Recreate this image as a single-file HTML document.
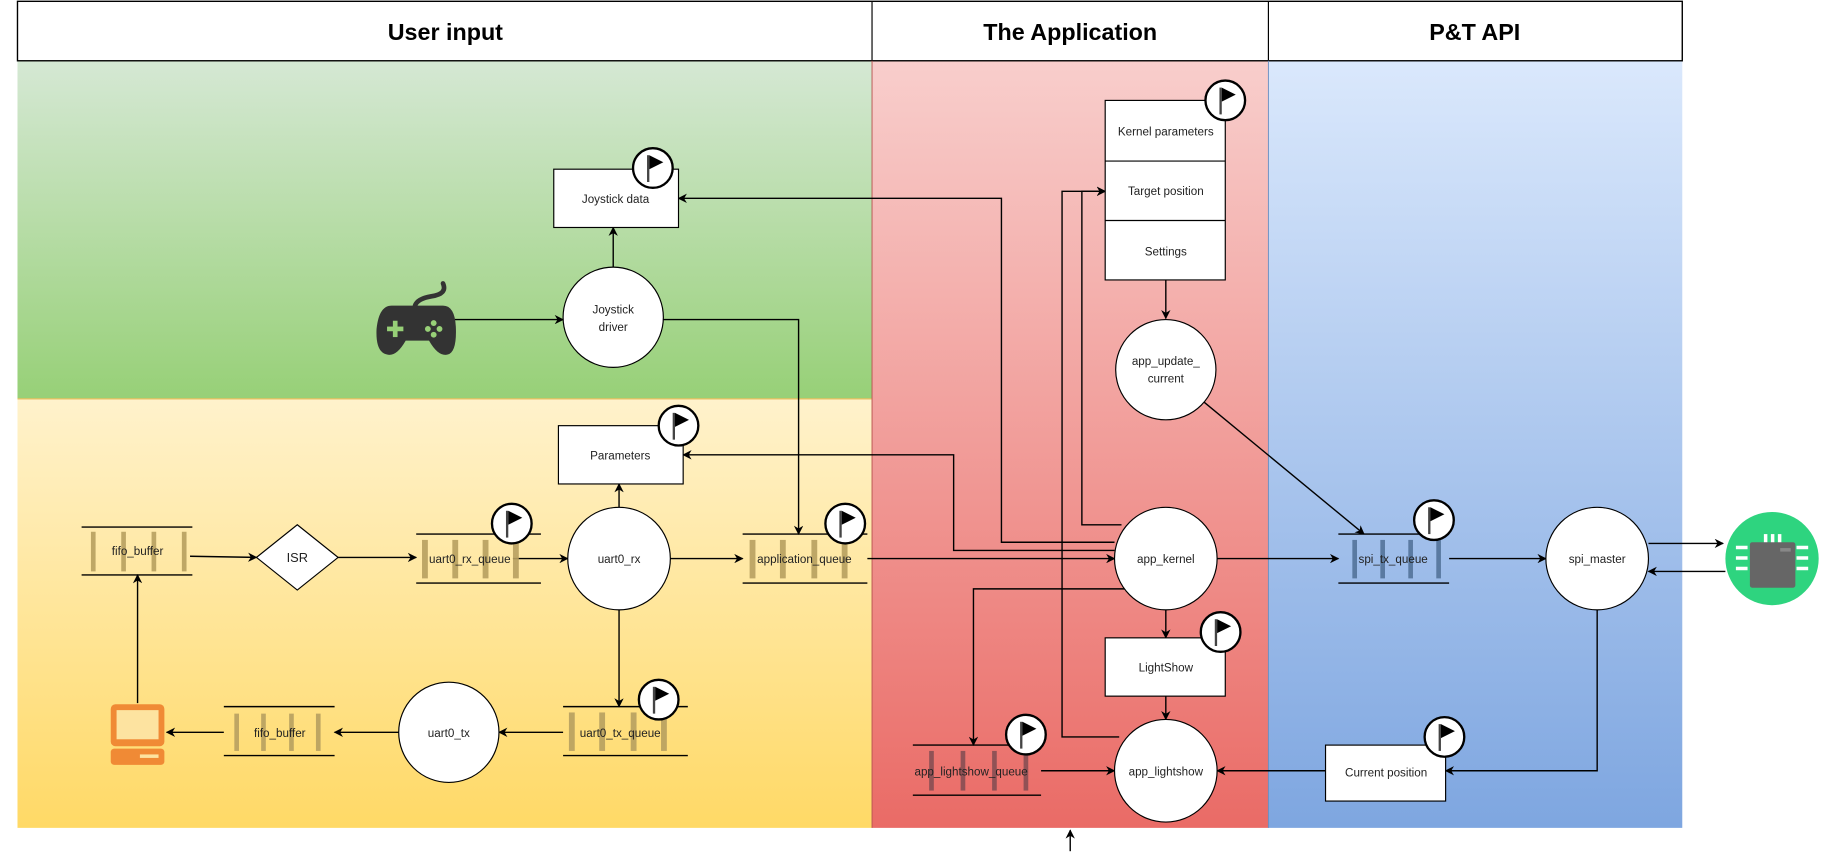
<!DOCTYPE html>
<html><head><meta charset="utf-8"><style>
html,body{margin:0;padding:0;background:#fff;}
svg{display:block;}
text{font-family:"Liberation Sans",Arial,sans-serif;}
</style></head><body>
<svg width="1828" height="856" viewBox="0 0 1568 734" xmlns="http://www.w3.org/2000/svg">
<defs>
<linearGradient id="gG" x1="0" y1="0" x2="0" y2="1"><stop offset="0" stop-color="#d5e8d4"/><stop offset="1" stop-color="#97d077"/></linearGradient>
<linearGradient id="gY" x1="0" y1="0" x2="0" y2="1"><stop offset="0" stop-color="#fff2cc"/><stop offset="1" stop-color="#ffd966"/></linearGradient>
<linearGradient id="gR" x1="0" y1="0" x2="0" y2="1"><stop offset="0" stop-color="#f8cecc"/><stop offset="1" stop-color="#ea6b66"/></linearGradient>
<linearGradient id="gB" x1="0" y1="0" x2="0" y2="1"><stop offset="0" stop-color="#dae8fc"/><stop offset="1" stop-color="#7ea6e0"/></linearGradient>
<marker id="a" viewBox="0 0 10 10" refX="9" refY="5" markerWidth="8" markerHeight="8" orient="auto" markerUnits="userSpaceOnUse"><path d="M0,0 L10,5 L0,10 L3,5 Z" fill="#000"/></marker>
<g id="flag"><circle r="17" fill="#fff" stroke="#000" stroke-width="2"/><line x1="-4" y1="-11" x2="-4" y2="12" stroke="#444" stroke-width="2"/><path d="M-3,-11 L9,-5 L-3,1 Z" fill="#000"/></g>
</defs>
<rect x="15" y="52" width="733" height="290" fill="url(#gG)"/>
<rect x="15" y="342" width="733" height="368" fill="url(#gY)"/>
<rect x="748" y="52" width="340" height="658" fill="url(#gR)"/>
<rect x="1088" y="52" width="355" height="658" fill="url(#gB)"/>
<line x1="15" y1="342" x2="748" y2="342" stroke="#e8c060" stroke-width="1"/>
<rect x="15" y="1" width="1428" height="51" fill="#fff" stroke="#000" stroke-width="1.2"/>
<line x1="748" y1="1" x2="748" y2="52" stroke="#000"/>
<line x1="1088" y1="1" x2="1088" y2="52" stroke="#000"/>
<line x1="748" y1="52" x2="748" y2="710" stroke="#b85450" stroke-width="0.8"/>
<line x1="1088" y1="52" x2="1088" y2="710" stroke="#6c8ebf" stroke-width="0.8"/>
<text x="382" y="34" font-size="20" font-weight="bold" text-anchor="middle">User input</text>
<text x="918" y="34" font-size="20" font-weight="bold" text-anchor="middle">The Application</text>
<text x="1265" y="34" font-size="20" font-weight="bold" text-anchor="middle">P&amp;T API</text>

<g stroke="#000" stroke-width="1.2" fill="none" marker-end="url(#a)">
<path d="M390,274 H483"/>
<path d="M526,229 V195"/>
<path d="M568,274 H685 V458"/>
<path d="M163,477 L220,478"/>
<path d="M290,478 H357"/>
<path d="M440,479 H487"/>
<path d="M531,435 V415"/>
<path d="M575,479 H637"/>
<path d="M744,479 H956"/>
<path d="M531,523 V606"/>
<path d="M483,628 H428"/>
<path d="M342,628 H287"/>
<path d="M192,628 H143"/>
<path d="M118,603 V493"/>
<path d="M956,465 H859 V170 H582"/>
<path d="M956,472 H818 V390 H586"/>
<path d="M962,450 H928 V164 H948"/>
<path d="M960,632 H911 V164 H948"/>
<path d="M1000,240 V273"/>
<path d="M1033,345 L1170,458"/>
<path d="M1044,479 H1148"/>
<path d="M1243,479 H1326"/>
<path d="M1414,466 H1478"/>
<path d="M1480,490 H1414"/>
<path d="M1370,523 V661 H1240"/>
<path d="M1137,661 H1044"/>
<path d="M1000,523 V547"/>
<path d="M1000,597 V617"/>
<path d="M966,505 H835 V639"/>
<path d="M893,661 H956"/>
<path d="M918,730 V712"/>
</g>

<g stroke="#000" stroke-width="1" fill="#fff">
<rect x="475" y="145" width="107" height="50"/>
<rect x="479" y="365" width="107" height="50"/>
<rect x="948" y="86" width="103" height="154"/>
<rect x="948" y="547" width="103" height="50"/>
<rect x="1137" y="639" width="103" height="48"/>
<line x1="948" y1="138" x2="1051" y2="138"/>
<line x1="948" y1="189" x2="1051" y2="189"/>
<circle cx="526" cy="272" r="43"/>
<circle cx="531" cy="479" r="44"/>
<circle cx="385" cy="628" r="43"/>
<circle cx="1000" cy="317" r="43"/>
<circle cx="1000" cy="479" r="44"/>
<circle cx="1000" cy="661" r="44"/>
<circle cx="1370" cy="479" r="44"/>
<path d="M255,450 L290,478 L255,506 L220,478 Z"/>
</g>

<g fill="#b8a060" opacity="0.9">
<rect x="78" y="456" width="4" height="34"/><rect x="104" y="456" width="4" height="34"/><rect x="130" y="456" width="4" height="34"/><rect x="156" y="456" width="4" height="34"/>
<rect x="362" y="463" width="5" height="33"/><rect x="388" y="463" width="5" height="33"/><rect x="414" y="463" width="5" height="33"/><rect x="440" y="463" width="5" height="33"/>
<rect x="643" y="463" width="5" height="33"/><rect x="669" y="463" width="5" height="33"/><rect x="696" y="463" width="5" height="33"/><rect x="722" y="463" width="5" height="33"/>
<rect x="488" y="611" width="5" height="33"/><rect x="514" y="611" width="5" height="33"/><rect x="541" y="611" width="5" height="33"/><rect x="567" y="611" width="5" height="33"/>
<rect x="201" y="612" width="4" height="32"/><rect x="224" y="612" width="4" height="32"/><rect x="248" y="612" width="4" height="32"/><rect x="271" y="612" width="4" height="32"/>
</g>
<g fill="#7a4a50" opacity="0.8">
<rect x="797" y="644" width="4" height="34"/><rect x="824" y="644" width="4" height="34"/><rect x="851" y="644" width="4" height="34"/><rect x="878" y="644" width="4" height="34"/>
</g>
<g fill="#4a6a90" opacity="0.8">
<rect x="1160" y="463" width="4" height="33"/><rect x="1184" y="463" width="4" height="33"/><rect x="1208" y="463" width="4" height="33"/><rect x="1232" y="463" width="4" height="33"/>
</g>
<g stroke="#000" stroke-width="1.2">
<line x1="70" y1="452" x2="165" y2="452"/><line x1="70" y1="493" x2="165" y2="493"/>
<line x1="357" y1="458" x2="464" y2="458"/><line x1="357" y1="500" x2="464" y2="500"/>
<line x1="637" y1="458" x2="744" y2="458"/><line x1="637" y1="500" x2="744" y2="500"/>
<line x1="483" y1="606" x2="590" y2="606"/><line x1="483" y1="648" x2="590" y2="648"/>
<line x1="192" y1="606" x2="287" y2="606"/><line x1="192" y1="648" x2="287" y2="648"/>
<line x1="783" y1="639" x2="893" y2="639"/><line x1="783" y1="682" x2="893" y2="682"/>
<line x1="1148" y1="458" x2="1243" y2="458"/><line x1="1148" y1="500" x2="1243" y2="500"/>
</g>

<g font-size="10" fill="#222" text-anchor="middle">
<text x="528" y="174">Joystick data</text>
<text x="526" y="269">Joystick</text><text x="526" y="284">driver</text>
<text x="532" y="394">Parameters</text>
<text x="118" y="476">fifo_buffer</text>
<text x="255" y="482" font-size="11">ISR</text>
<text x="403" y="483">uart0_rx_queue</text>
<text x="531" y="483">uart0_rx</text>
<text x="690" y="483">application_queue</text>
<text x="532" y="632">uart0_tx_queue</text>
<text x="385" y="632">uart0_tx</text>
<text x="240" y="632">fifo_buffer</text>
<text x="1000" y="116">Kernel parameters</text>
<text x="1000" y="167">Target position</text>
<text x="1000" y="219">Settings</text>
<text x="1000" y="313">app_update_</text><text x="1000" y="328">current</text>
<text x="1000" y="483">app_kernel</text>
<text x="1000" y="576">LightShow</text>
<text x="1000" y="665">app_lightshow</text>
<text x="833" y="665">app_lightshow_queue</text>
<text x="1195" y="483">spi_tx_queue</text>
<text x="1370" y="483">spi_master</text>
<text x="1189" y="666">Current position</text>
</g>

<use href="#flag" x="560" y="144"/>
<use href="#flag" x="582" y="365"/>
<use href="#flag" x="439" y="449"/>
<use href="#flag" x="725" y="449"/>
<use href="#flag" x="565" y="600"/>
<use href="#flag" x="1051" y="86"/>
<use href="#flag" x="1047" y="542"/>
<use href="#flag" x="880" y="630"/>
<use href="#flag" x="1230" y="446"/>
<use href="#flag" x="1239" y="632"/>

<g fill="#333">
<path d="M380,243 Q384,252 370,254 Q358,256 356,262" stroke="#333" stroke-width="4" fill="none" stroke-linecap="round"/>
<path d="M336,262 H380 Q390,262 391,280 Q392,302 384,304 Q376,306 368,292 H348 Q340,306 332,304 Q322,302 323,282 Q325,262 336,262 Z"/>
<rect x="332" y="280" width="14" height="4" fill="#97d077"/><rect x="337" y="275" width="4" height="14" fill="#97d077"/>
<circle cx="372" cy="277" r="2.5" fill="#97d077"/><circle cx="372" cy="287" r="2.5" fill="#97d077"/><circle cx="367" cy="282" r="2.5" fill="#97d077"/><circle cx="377" cy="282" r="2.5" fill="#97d077"/>
</g>
<g>
<rect x="95" y="604" width="46" height="36" rx="4" fill="#f08a35"/>
<rect x="100" y="609" width="36" height="25" fill="#fde3a0"/>
<rect x="95" y="642" width="46" height="14" rx="3" fill="#f08a35"/>
<rect x="120" y="647" width="16" height="3" fill="#fde3a0"/>
</g>
<circle cx="1520" cy="479" r="40" fill="#2ed47f"/>
<g fill="#fff">
<rect x="1513" y="458" width="3" height="10"/><rect x="1519" y="458" width="3" height="10"/><rect x="1525" y="458" width="3" height="10"/>
<rect x="1513" y="490" width="3" height="10"/><rect x="1519" y="490" width="3" height="10"/><rect x="1525" y="490" width="3" height="10"/>
<rect x="1489" y="468" width="10" height="3"/><rect x="1489" y="477" width="10" height="3"/><rect x="1489" y="486" width="10" height="3"/>
<rect x="1541" y="468" width="10" height="3"/><rect x="1541" y="477" width="10" height="3"/><rect x="1541" y="486" width="10" height="3"/>
</g>
<rect x="1501" y="465" width="39" height="39" rx="2" fill="#666"/>
<rect x="1527" y="470" width="9" height="3" fill="#888"/>
</svg>
</body></html>
